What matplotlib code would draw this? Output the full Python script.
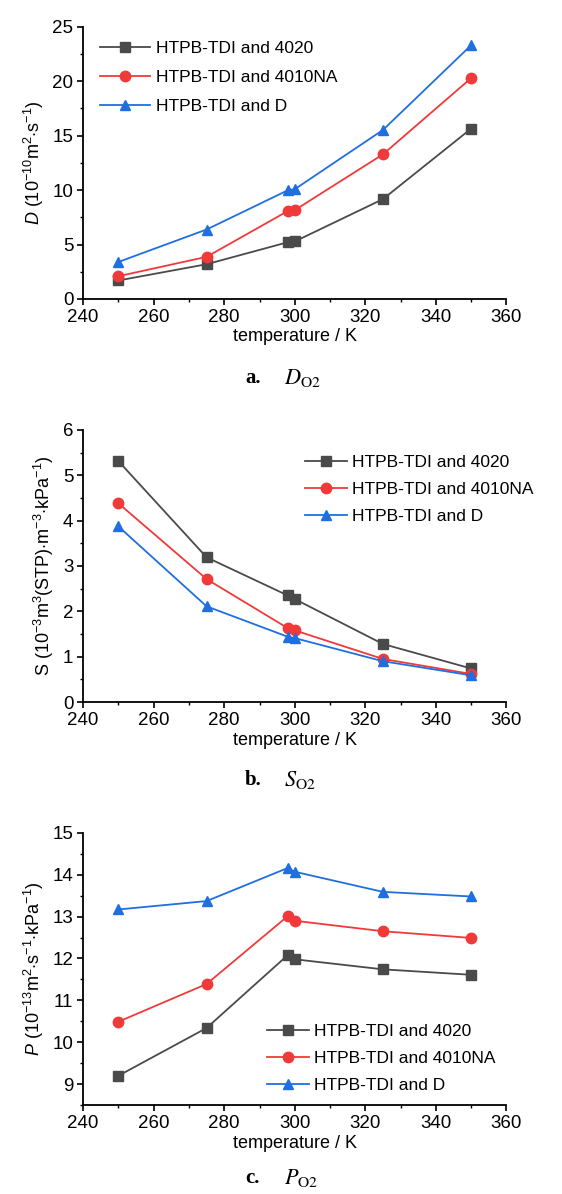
import matplotlib
matplotlib.use("Agg")
import matplotlib.pyplot as plt
from matplotlib.ticker import MultipleLocator

plt.rcParams['font.family'] = ['Liberation Sans', 'DejaVu Sans']
plt.rcParams['mathtext.fontset'] = 'custom'
plt.rcParams['mathtext.rm'] = 'Liberation Sans'
plt.rcParams['mathtext.it'] = 'Liberation Sans:italic'

# temperature (K)
temperature = [250, 275, 298, 300, 325, 350]
series_names = ['HTPB-TDI and 4020', 'HTPB-TDI and 4010NA', 'HTPB-TDI and D']

# a. diffusion coefficient D (1e-10 m2/s)
D_4020 = [1.7, 3.19, 5.21, 5.28, 9.17, 15.64]
D_4010NA = [2.09, 3.87, 8.07, 8.16, 13.28, 20.28]
D_D = [3.4, 6.38, 9.98, 10.08, 15.52, 23.3]

# b. solubility S
S_4020 = [5.31, 3.19, 2.35, 2.27, 1.28, 0.74]
S_4010NA = [4.38, 2.71, 1.63, 1.58, 0.95, 0.62]
S_D = [3.87, 2.11, 1.44, 1.41, 0.90, 0.59]

# c. permeability P
P_4020 = [9.2, 10.34, 12.08, 11.98, 11.74, 11.61]
P_4010NA = [10.49, 11.39, 13.01, 12.90, 12.65, 12.49]
P_D = [13.17, 13.37, 14.16, 14.07, 13.59, 13.48]

colors = ['#4a4a4a', '#f03a3a', '#1f6fe0']
markers = ['s', 'o', '^']

fig = plt.figure(figsize=(5.62, 11.94), dpi=100)

panels = [
    ([D_4020, D_4010NA, D_D], 0.7496, (0, 25), 5, 2.5,
     r'$\it{D}$ (10$^{-10}$m$^{2}$$\cdot$s$^{-1}$)', (0.04, 0.947), 2.9, 0.8),
    ([S_4020, S_4010NA, S_D], 0.412, (0, 6), 1, 0.5,
     r'S (10$^{-3}$m$^{3}$(STP)$\cdot$m$^{-3}$$\cdot$kPa$^{-1}$)', (0.525, 0.908), 2.4, 0.68),
    ([P_4020, P_4010NA, P_D], 0.0745, (8.5, 15), 1, 0.5,
     r'$\it{P}$ (10$^{-13}$m$^{2}$$\cdot$s$^{-1}$$\cdot$kPa$^{-1}$)', (0.435, 0.298), 2.4, 0.68),
]

for data, bottom, ylim, major, minor, ylabel, leg_pos, hlen, lspace in panels:
    ax = fig.add_axes([0.148, bottom, 0.753, 0.228])
    for vals, name, c, m in zip(data, series_names, colors, markers):
        ax.plot(temperature, vals, color=c, marker=m, markersize=7 if m != 'o' else 7.5,
                linewidth=1.3, label=name)
    ax.set_xlim(240, 360)
    ax.set_ylim(*ylim)
    ax.xaxis.set_major_locator(MultipleLocator(20))
    ax.xaxis.set_minor_locator(MultipleLocator(10))
    ax.yaxis.set_major_locator(MultipleLocator(major))
    ax.yaxis.set_minor_locator(MultipleLocator(minor))
    ax.spines['top'].set_visible(False)
    ax.spines['right'].set_visible(False)
    for s in ['left', 'bottom']:
        ax.spines[s].set_linewidth(1.3)
    ax.tick_params(which='major', length=4, width=1.2, labelsize=13.5, pad=3)
    ax.tick_params(which='minor', length=2.5, width=1.0)
    ax.set_xlabel('temperature / K', fontsize=13, labelpad=2)
    ax.set_ylabel(ylabel, fontsize=13, labelpad=5)
    ax.legend(loc='upper left', bbox_to_anchor=leg_pos, frameon=False, fontsize=12.5,
              handlelength=hlen, handletextpad=0.3, labelspacing=lspace,
              borderpad=0, borderaxespad=0)

captions = [('a.', r'$D_{\mathrm{O2}}$', 0.683), ('b.', r'$S_{\mathrm{O2}}$', 0.347),
            ('c.', r'$P_{\mathrm{O2}}$', 0.013)]
for lab, sym, y in captions:
    fig.text(0.45, y, lab, fontsize=15, fontweight='bold', family='Liberation Serif',
             ha='center', va='center')
    fig.text(0.505, y, sym, fontsize=16, math_fontfamily='stix', ha='left', va='center')

fig.savefig('out.png', dpi=100)
